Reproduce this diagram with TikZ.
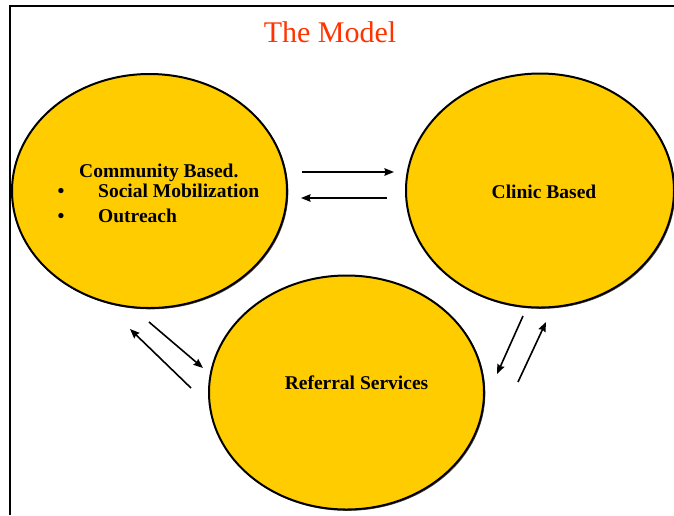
\documentclass[tikz,border=0pt]{standalone}
\usepackage{fontspec}
\setmainfont{Liberation Serif}
\usetikzlibrary{shapes.geometric,arrows.meta}

\definecolor{modelgold}{RGB}{255,204,0}
\definecolor{modelred}{RGB}{255,51,0}

\tikzset{
	blob/.style={ellipse, draw=black, line width=2pt, fill=modelgold,
		minimum width=275pt, minimum height=234pt, inner sep=0pt,
		preaction={draw=black!70, line width=0.8pt,
			transform canvas={shift={(0.9pt,-0.9pt)}}}},
	blobtext/.style={anchor=base west, inner sep=0pt,
		font=\bfseries\fontsize{19.5}{23}\selectfont},
	flow/.style={line width=1.6pt, -{Stealth[length=9.5pt,width=7.5pt,inset=1pt]}}
}

\begin{document}
\begin{tikzpicture}[x=1pt,y=-1pt]
		%%%%% START %%%%%
		
		\useasboundingbox (0,0) rectangle (674,515);
		
		% frame, only top and left edges show
		\draw[line width=2pt] (10,515) -- (10,6) -- (674,6);
		
		\node[anchor=base, inner sep=0pt, text=modelred,
			font=\fontsize{30}{36}\selectfont] (title) at (330,42) {The Model};
		
		% the three circles
		\node[blob] (community) at (149.5,191) {};
		\node[blob, minimum width=268pt] (clinic) at (540,190.5) {};
		\node[blob] (referral) at (346.5,392.5) {};
		
		\node[blobtext] (cb) at (79,177) {Community Based.};
		\node[blobtext, anchor=base] (dot1) at (61,197) {•};
		\node[blobtext] (social) at (98,197) {Social Mobilization};
		\node[blobtext, anchor=base] (dot2) at (61,222) {•};
		\node[blobtext] (outreach) at (98,222) {Outreach};
		
		\node[blobtext, anchor=base] (clinictext) at (544,198) {Clinic Based};
		\node[blobtext, anchor=base] (referraltext) at (356.5,389) {Referral Services};
		
		% arrow ends
		\coordinate (cc1) at (302,172);
		\coordinate (cc2) at (394,172);
		\coordinate (cc3) at (387,198);
		\coordinate (cc4) at (301,198);
		
		\coordinate (cr1) at (149,322);
		\coordinate (cr2) at (203,368);
		\coordinate (cr3) at (191,388);
		\coordinate (cr4) at (130,329);
		
		\coordinate (rc1) at (523,316);
		\coordinate (rc2) at (497,374);
		\coordinate (rc3) at (518,382);
		\coordinate (rc4) at (546,322);
		
		\draw[flow] (cc1) -- (cc2);
		\draw[flow] (cc3) -- (cc4);
		\draw[flow] (cr1) -- (cr2);
		\draw[flow] (cr3) -- (cr4);
		\draw[flow] (rc1) -- (rc2);
		\draw[flow] (rc3) -- (rc4);
		
		%%%%% END %%%%%
	\end{tikzpicture}
\end{document}
